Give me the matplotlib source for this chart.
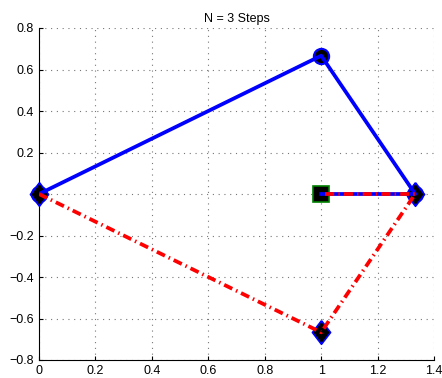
import matplotlib
matplotlib.use('Agg')
import matplotlib.pyplot as plt

plt.rcParams['font.family'] = ['Liberation Sans', 'DejaVu Sans']

# 数据
blue_x = [0, 1, 4 / 3, 1]
blue_y = [0, 2 / 3, 0, 0]
red_x = [0, 1, 4 / 3, 1]
red_y = [0, -2 / 3, 0, 0]
circle_x = [0, 1, 4 / 3]
circle_y = [0, 2 / 3, 0]
diamond_x = [0, 1, 4 / 3]
diamond_y = [0, -2 / 3, 0]
square_x = [1]
square_y = [0]
title = 'N = 3 Steps'
xticks = [0, 0.2, 0.4, 0.6, 0.8, 1, 1.2, 1.4]
yticks = [-0.8, -0.6, -0.4, -0.2, 0, 0.2, 0.4, 0.6, 0.8]
ytick_labels = ['\u22120.8', '\u22120.6', '\u22120.4', '\u22120.2', '', '0.2', '0.4', '0.6', '0.8']

fig = plt.figure(figsize=(4.42, 3.78), dpi=100)
ax = fig.add_axes([39 / 442, 18 / 378, 395 / 442, 332 / 378])

# 菱形: 高于宽
diamond = [(0, 1.3), (1, 0), (0, -1.3), (-1, 0), (0, 1.3)]

ax.plot(circle_x, circle_y, 'o', ms=11, mfc='k', mec='b', mew=1.5, zorder=3, clip_on=False)
ax.plot(diamond_x, diamond_y, marker=diamond, ls='none', ms=17, mfc='k', mec='b', mew=1.2,
        zorder=3, clip_on=False)
ax.plot(square_x, square_y, 's', ms=11, mfc='k', mec='g', mew=1.2, zorder=3, clip_on=False)
ax.plot(blue_x, blue_y, '-', color='b', lw=2.7, zorder=4)
ax.plot(red_x, red_y, color='r', lw=2.7, zorder=5, dashes=(2.4, 1.1, 0.4, 1.1))

ax.set_xlim(0, 1.4)
ax.set_ylim(-0.8, 0.8)
ax.set_xticks(xticks)
ax.set_xticklabels([f'{v:g}' for v in xticks])
ax.set_yticks(yticks)
ax.set_yticklabels(ytick_labels)
ax.tick_params(direction='in', labelsize=9, length=3)
ax.grid(True, linestyle=(0, (1, 4.2)), color='#777777', lw=0.8)
ax.spines['top'].set_visible(False)
ax.spines['right'].set_visible(False)
ax.set_title(title, fontsize=9, pad=4)

plt.savefig('out.png', dpi=100)
